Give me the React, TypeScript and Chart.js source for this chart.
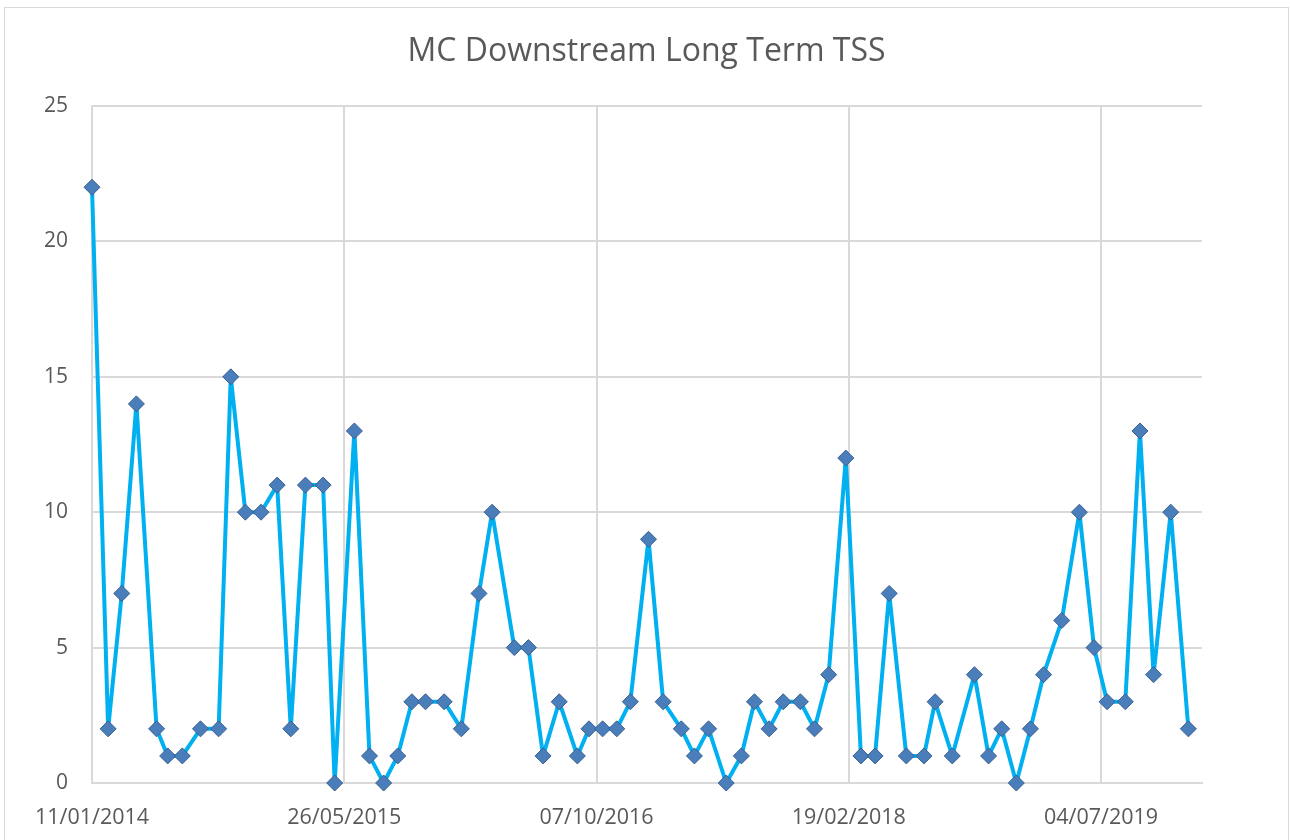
import React, { useEffect, useRef } from "react";
import { Chart, registerables } from "chart.js";

Chart.register(...registerables);

const chartTitle = "MC Downstream Long Term TSS";

const sampleDates = [
  "2014-01-11", "2014-02-12", "2014-03-11", "2014-04-09", "2014-05-19", "2014-06-10",
  "2014-07-09", "2014-08-14", "2014-09-19", "2014-10-13", "2014-11-11", "2014-12-12",
  "2015-01-13", "2015-02-09", "2015-03-10", "2015-04-14", "2015-05-07", "2015-06-15",
  "2015-07-15", "2015-08-12", "2015-09-09", "2015-10-07", "2015-11-03", "2015-12-10",
  "2016-01-13", "2016-02-17", "2016-03-14", "2016-04-27", "2016-05-25", "2016-06-23",
  "2016-07-25", "2016-08-30", "2016-09-22", "2016-10-19", "2016-11-16", "2016-12-13",
  "2017-01-18", "2017-02-16", "2017-03-24", "2017-04-19", "2017-05-17", "2017-06-21",
  "2017-07-21", "2017-08-16", "2017-09-14", "2017-10-12", "2017-11-15", "2017-12-13",
  "2018-01-10", "2018-02-13", "2018-03-15", "2018-04-12", "2018-05-10", "2018-06-13",
  "2018-07-18", "2018-08-09", "2018-09-12", "2018-10-26", "2018-11-23", "2018-12-19",
  "2019-01-17", "2019-02-14", "2019-03-12", "2019-04-17", "2019-05-22", "2019-06-20",
  "2019-07-16", "2019-08-21", "2019-09-19", "2019-10-16", "2019-11-19", "2019-12-24",
];

const tssValues = [
  22, 2, 7, 14, 2, 1,
  1, 2, 2, 15, 10, 10,
  11, 2, 11, 11, 0, 13,
  1, 0, 1, 3, 3, 3,
  2, 7, 10, 5, 5, 1,
  3, 1, 2, 2, 2, 3,
  9, 3, 2, 1, 2, 0,
  1, 3, 2, 3, 3, 2,
  4, 12, 1, 1, 7, 1,
  1, 3, 1, 4, 1, 2,
  0, 2, 4, 6, 10, 5,
  3, 3, 13, 4, 10, 2,
];

// x-axis tick dates (major unit 500 days) and axis bounds
const xTickDates = ["2014-01-11", "2015-05-26", "2016-10-07", "2018-02-19", "2019-07-04"];
const axisStartDate = "2014-01-11";
const axisEndDate = "2020-01-20";
const yTickValues = [0, 5, 10, 15, 20, 25];

const DAY_MS = 86400000;
const parseUTC = (s: string) => {
  const [y, m, d] = s.split("-").map(Number);
  return Date.UTC(y, m - 1, d);
};
const startMs = parseUTC(axisStartDate);
const toDay = (s: string) => Math.round((parseUTC(s) - startMs) / DAY_MS);
const pad2 = (n: number) => (n < 10 ? "0" + n : "" + n);
const formatDay = (day: number) => {
  const dt = new Date(startMs + day * DAY_MS);
  return `${pad2(dt.getUTCDate())}/${pad2(dt.getUTCMonth() + 1)}/${dt.getUTCFullYear()}`;
};

const TEXT = "#595959";
const GRID = "#d9d9d9";
const FONT = "'Open Sans', 'Liberation Sans', sans-serif";

export default function App() {
  const canvasRef = useRef<HTMLCanvasElement | null>(null);

  useEffect(() => {
    const canvas = canvasRef.current;
    if (!canvas) return;
    const points = sampleDates.map((d, i) => ({ x: toDay(d), y: tssValues[i] }));
    const xTickDays = xTickDates.map(toDay);
    const chart = new Chart(canvas, {
      type: "line",
      data: {
        datasets: [
          {
            label: chartTitle,
            data: points,
            borderColor: "#00B0F0",
            borderWidth: 4,
            borderJoinStyle: "round",
            borderCapStyle: "round",
            tension: 0,
            pointStyle: "rectRot",
            pointRadius: 8,
            pointBackgroundColor: "#4A7EBB",
            pointBorderColor: "#3A5F8F",
            pointBorderWidth: 1,
            clip: false,
            yAxisID: "y",
            xAxisID: "x",
          } as any,
        ],
      },
      options: {
        responsive: false,
        animation: false,
        layout: { padding: { left: 3, right: 0, top: 0, bottom: 0 } },
        plugins: {
          legend: { display: false },
          tooltip: { enabled: false },
          title: {
            display: true,
            text: chartTitle,
            color: TEXT,
            font: { family: FONT, size: 32, weight: "normal", lineHeight: 1.2 },
            padding: { top: 32.8, bottom: 34.8 },
          },
        },
        scales: {
          x: {
            type: "linear",
            min: 0,
            max: toDay(axisEndDate),
            afterBuildTicks: (s: any) => {
              s.ticks = xTickDays.map((v) => ({ value: v }));
            },
            ticks: {
              autoSkip: false,
              maxRotation: 0,
              color: TEXT,
              font: { family: FONT, size: 21.5 },
              padding: 22,
              callback: (v: any) => formatDay(Number(v)),
            },
            grid: { color: GRID, lineWidth: 2, drawTicks: false },
            border: { color: GRID, width: 2 },
            afterFit: (s: any) => {
              s.height = 57;
            },
          },
          y: {
            type: "linear",
            position: "left",
            min: yTickValues[0],
            max: yTickValues[yTickValues.length - 1],
            afterBuildTicks: (s: any) => {
              s.ticks = yTickValues.map((v) => ({ value: v }));
            },
            ticks: {
              color: TEXT,
              font: { family: FONT, size: 21 },
              padding: 24,
            },
            grid: { color: GRID, lineWidth: 2, drawTicks: false },
            border: { color: GRID, width: 2 },
            afterFit: (s: any) => {
              s.width = 89;
            },
          },
          yRightSpace: {
            type: "linear",
            position: "right",
            display: true,
            min: 0,
            max: 1,
            ticks: { display: false },
            grid: { display: false, drawTicks: false },
            border: { display: false },
            afterFit: (s: any) => {
              s.width = 88;
            },
          },
        },
      } as any,
    });
    return () => chart.destroy();
  }, []);

  return (
    <div
      style={{
        position: "absolute",
        left: 0,
        top: 0,
        width: 1290,
        height: 840,
        overflow: "hidden",
        background: "#ffffff",
      }}
    >
      <canvas ref={canvasRef} width={1290} height={840} style={{ display: "block" }} />
      <div
        style={{
          position: "absolute",
          left: 4,
          top: 7,
          width: 1283,
          height: 900,
          border: `1px solid ${GRID}`,
          pointerEvents: "none",
        }}
      />
    </div>
  );
}
